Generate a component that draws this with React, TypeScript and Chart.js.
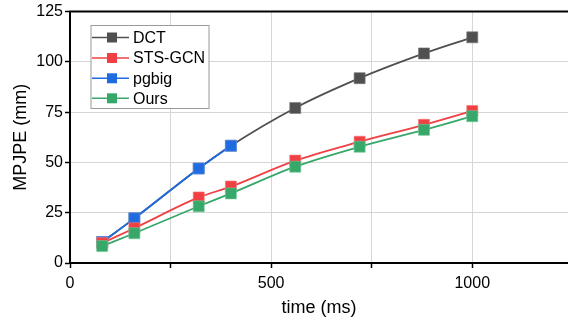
import React, { useEffect, useRef } from "react";
import { Chart, registerables } from "chart.js";

Chart.register(...registerables);

const times = [80, 160, 320, 400, 560, 720, 880, 1000];
const dctValues = [10.4, 22.2, 47.0, 58.3, 77.1, 91.9, 104.2, 112.2];
const stsValues = [9.9, 17.3, 32.6, 38.0, 50.9, 60.3, 68.7, 75.6];
const pgbigValues = [10.4, 22.2, 47.0, 58.3];
const oursValues = [8.4, 14.8, 28.2, 34.6, 47.9, 57.8, 66.2, 73.0];

const seriesNames = ["DCT", "STS-GCN", "pgbig", "Ours"];
const seriesColors = ["#505050", "#f04044", "#1f6be0", "#38a86a"];
const seriesMarkerBorders = ["rgba(120,120,120,0.6)", "rgba(245,120,120,0.6)", "rgba(100,150,240,0.6)", "rgba(110,200,150,0.6)"];

const xTicks = [0, 250, 500, 750, 1000];
const xTickLabels = [0, 500, 1000];
const yTicks = [0, 25, 50, 75, 100, 125];

const FONT = "'Liberation Sans', Arial, sans-serif";

function toPoints(xs: number[], ys: number[]) {
  return ys.map((y, i) => ({ x: xs[i], y }));
}

const frameAndLegend = {
  id: "frameAndLegend",
  afterDraw(chart: any) {
    const ctx = chart.ctx;
    const { left, right, top } = chart.chartArea;
    ctx.save();
    ctx.strokeStyle = "#000";
    ctx.lineWidth = 2;
    ctx.beginPath();
    ctx.moveTo(left - 1, top);
    ctx.lineTo(right, top);
    ctx.stroke();

    const bx = 91, by = 25.5, bw = 118, bh = 83;
    ctx.fillStyle = "#fff";
    ctx.fillRect(bx, by, bw, bh);
    ctx.strokeStyle = "#9a9a9a";
    ctx.lineWidth = 1;
    ctx.strokeRect(bx, by, bw, bh);
    const rowY = [37.5, 58, 78.3, 98.3];
    ctx.font = "16px " + FONT;
    ctx.textBaseline = "middle";
    ctx.textAlign = "left";
    seriesNames.forEach((name, i) => {
      const y = rowY[i];
      ctx.strokeStyle = seriesColors[i];
      ctx.lineWidth = 1.6;
      ctx.beginPath();
      ctx.moveTo(92, y);
      ctx.lineTo(129, y);
      ctx.stroke();
      ctx.fillStyle = seriesColors[i];
      ctx.fillRect(107, y - 5, 10, 10);
      ctx.fillStyle = "#000";
      ctx.fillText(name, 133, y + 1);
    });
    ctx.restore();
  },
};

export default function App() {
  const ref = useRef<HTMLCanvasElement | null>(null);

  useEffect(() => {
    document.body.style.margin = "0";
    if (!ref.current) return;
    const mk = (i: number, data: any[], order: number) => ({
      label: seriesNames[i],
      data,
      borderColor: seriesColors[i],
      backgroundColor: seriesColors[i],
      pointBackgroundColor: seriesColors[i],
      pointBorderColor: seriesMarkerBorders[i],
      pointBorderWidth: 1,
      borderWidth: 1.8,
      pointStyle: "rect",
      pointRadius: 7.8,
      pointHoverRadius: 7.8,
      cubicInterpolationMode: "monotone",
      order,
    });
    const chart = new Chart(ref.current, {
      type: "line",
      data: {
        datasets: [
          mk(3, toPoints(times, oursValues), 0),
          mk(1, toPoints(times, stsValues), 1),
          mk(2, toPoints(times, pgbigValues), 2),
          mk(0, toPoints(times, dctValues), 3),
        ] as any,
      },
      options: {
        animation: false,
        responsive: false,
        layout: { autoPadding: false, padding: { top: 10, right: 0, left: 0, bottom: 0 } },
        plugins: { legend: { display: false }, tooltip: { enabled: false } },
        scales: {
          x: {
            type: "linear",
            min: 0,
            max: 1238,
            afterFit: (s: any) => { s.height = 59; s.paddingLeft = 0; s.paddingRight = 0; },
            afterBuildTicks: (s: any) => { s.ticks = xTicks.map((v) => ({ value: v })); },
            border: { display: true, color: "#000", width: 2 },
            grid: {
              color: (c: any) => (c.tick && c.tick.value === 0 ? "rgba(0,0,0,0)" : "#d6d6d6"),
              lineWidth: 1,
              drawTicks: true,
              tickLength: 5,
              tickColor: "#000",
              tickWidth: 1.5,
            },
            ticks: {
              maxRotation: 0,
              autoSkip: false,
              padding: 6,
              color: "#000",
              font: { family: FONT, size: 16 },
              callback: (v: any) => (xTickLabels.includes(Number(v)) ? String(v) : ""),
            },
            title: {
              display: true,
              text: "time (ms)",
              color: "#000",
              font: { family: FONT, size: 18 },
              padding: { top: 0, bottom: 3 },
            },
          },
          y: {
            type: "linear",
            min: 0,
            max: 125,
            afterFit: (s: any) => { s.width = 70; },
            afterBuildTicks: (s: any) => { s.ticks = yTicks.map((v) => ({ value: v })); },
            border: { display: true, color: "#000", width: 2 },
            grid: {
              color: (c: any) => (c.tick && (c.tick.value === 0 || c.tick.value === 125) ? "rgba(0,0,0,0)" : "#d6d6d6"),
              lineWidth: 1,
              drawTicks: true,
              tickLength: 5,
              tickColor: "#000",
              tickWidth: 1.5,
            },
            ticks: {
              padding: 2,
              color: "#000",
              font: { family: FONT, size: 16 },
              callback: (v: any) => String(v),
            },
            title: {
              display: true,
              text: "MPJPE (mm)",
              color: "#000",
              font: { family: FONT, size: 18 },
              padding: { top: 10, bottom: 0 },
            },
          },
        },
      },
      plugins: [frameAndLegend],
    } as any);
    return () => chart.destroy();
  }, []);

  return <canvas ref={ref} width={568} height={322} style={{ display: "block" }} />;
}
